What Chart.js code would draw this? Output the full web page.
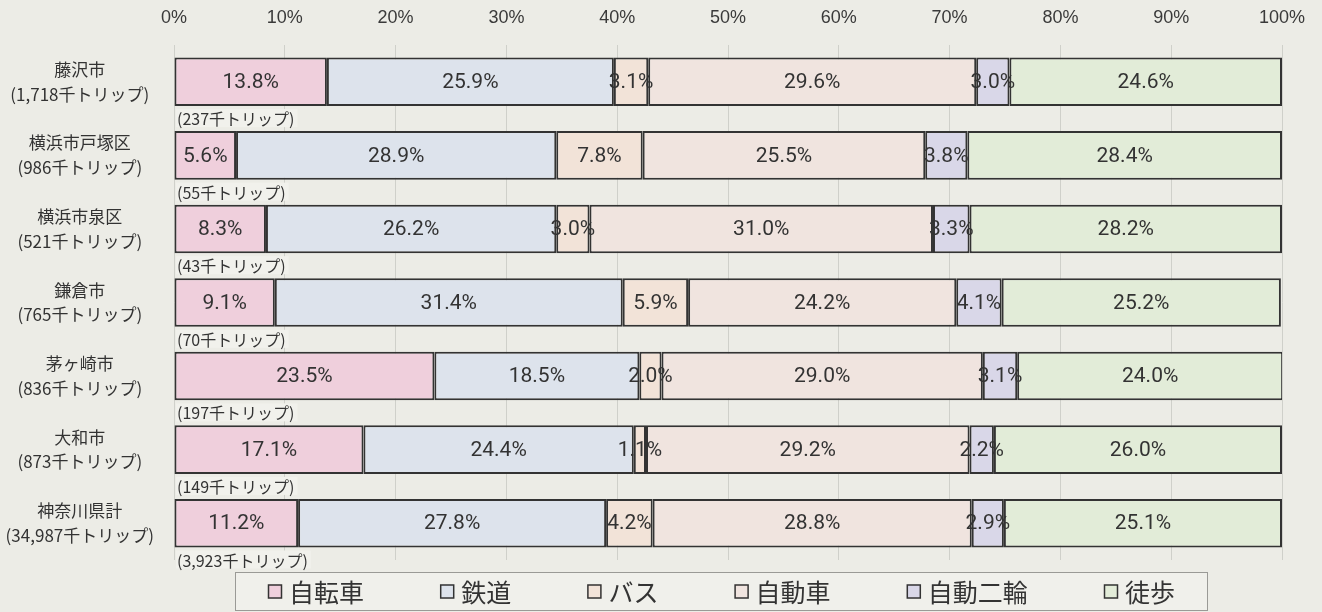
<!DOCTYPE html>
<html>
<head>
<meta charset="utf-8">
<script src="https://cdn.jsdelivr.net/npm/chart.js@4.4.1/dist/chart.umd.min.js"></script>
<style>
  html, body { margin: 0; padding: 0; background: #ecece6; }
</style>
</head>
<body>
<canvas id="modeChart" width="1322" height="612"></canvas>
<script>
// 都市ごとの交通手段分担率 (%)
const cities = ['藤沢市', '横浜市戸塚区', '横浜市泉区', '鎌倉市', '茅ヶ崎市', '大和市', '神奈川県計'];
const totalTrips = ['1,718', '986', '521', '765', '836', '873', '34,987'];
const bikeTrips = ['237', '55', '43', '70', '197', '149', '3,923'];
const modes = ['自転車', '鉄道', 'バス', '自動車', '自動二輪', '徒歩'];

const bicycle = [13.8, 5.6, 8.3, 9.1, 23.5, 17.1, 11.2];
const rail = [25.9, 28.9, 26.2, 31.4, 18.5, 24.4, 27.8];
const bus = [3.1, 7.8, 3.0, 5.9, 2.0, 1.1, 4.2];
const car = [29.6, 25.5, 31.0, 24.2, 29.0, 29.2, 28.8];
const motorbike = [3.0, 3.8, 3.3, 4.1, 3.1, 2.2, 2.9];
const walk = [24.6, 28.4, 28.2, 25.2, 24.0, 26.0, 25.1];

const colors = ['#efcfdc', '#dde3ec', '#f2e3d8', '#f0e4df', '#d9d7e8', '#e2ecd8'];
const seriesValues = [bicycle, rail, bus, car, motorbike, walk];

const jpFont = '"Noto Sans CJK JP", "Liberation Sans", sans-serif';
const numFont = '"Liberation Sans Narrow", "Roboto", "Liberation Sans", sans-serif';
const textColor = '#333333';

// 棒の中の数値ラベル
const valueLabels = {
  id: 'valueLabels',
  afterDatasetsDraw(chart) {
    const ctx = chart.ctx;
    ctx.save();
    ctx.font = '21px ' + numFont;
    ctx.fillStyle = textColor;
    ctx.textAlign = 'center';
    ctx.textBaseline = 'middle';
    chart.data.datasets.forEach((ds, di) => {
      const meta = chart.getDatasetMeta(di);
      meta.data.forEach((el, i) => {
        const v = ds.data[i];
        ctx.fillText(v.toFixed(1) + '%', (el.x + el.base) / 2, el.y + 1);
      });
    });
    ctx.restore();
  }
};

// 棒の下の自転車トリップ数
const tripLabels = {
  id: 'tripLabels',
  afterDatasetsDraw(chart) {
    const ctx = chart.ctx;
    const meta = chart.getDatasetMeta(0);
    ctx.save();
    ctx.font = '16px ' + jpFont;
    ctx.textAlign = 'left';
    ctx.textBaseline = 'middle';
    meta.data.forEach((el, i) => {
      const txt = '(' + bikeTrips[i] + '千トリップ)';
      const x = chart.chartArea.left + 2;
      const y = el.y + el.height / 2 + 12;
      const w = ctx.measureText(txt).width;
      ctx.fillStyle = '#f1f1ec';
      ctx.fillRect(x, y - 9, w + 4, 18);
      ctx.fillStyle = textColor;
      ctx.fillText(txt, x + 1, y + 1);
    });
    ctx.restore();
  }
};

// 下の凡例 (枠付き)
const boxLegend = {
  id: 'boxLegend',
  afterDraw(chart) {
    const ctx = chart.ctx;
    const boxL = 235, boxR = 1208, boxT = 572, boxB = 611;
    ctx.save();
    ctx.fillStyle = '#f0f0eb';
    ctx.fillRect(boxL, boxT, boxR - boxL, boxB - boxT);
    ctx.strokeStyle = '#9a9a96';
    ctx.lineWidth = 1;
    ctx.strokeRect(boxL + 0.5, boxT + 0.5, boxR - boxL - 1, boxB - boxT - 1);

    ctx.font = '25px ' + jpFont;
    const sq = 14, gapText = 7;
    const widths = chart.data.datasets.map(ds => sq + gapText + ctx.measureText(ds.label).width);
    const start = 268, end = 1175;
    const total = widths.reduce((a, b) => a + b, 0);
    const gap = (end - start - total) / (widths.length - 1);
    let x = start;
    const cy = (boxT + boxB) / 2;
    ctx.textBaseline = 'middle';
    ctx.textAlign = 'left';
    chart.data.datasets.forEach((ds, i) => {
      ctx.fillStyle = ds.backgroundColor;
      ctx.fillRect(x, cy - sq / 2, sq, sq);
      ctx.strokeStyle = '#333';
      ctx.lineWidth = 1.5;
      ctx.strokeRect(x + 0.5, cy - sq / 2 + 0.5, sq - 1, sq - 1);
      ctx.fillStyle = textColor;
      ctx.fillText(ds.label, x + sq + gapText, cy + 1);
      x += widths[i] + gap;
    });
    ctx.restore();
  }
};

const ctx = document.getElementById('modeChart');

new Chart(ctx, {
  type: 'bar',
  data: {
    labels: cities.map((c, i) => [c, '(' + totalTrips[i] + '千トリップ)']),
    datasets: modes.map((m, i) => ({
      label: m,
      data: seriesValues[i],
      backgroundColor: colors[i],
      borderColor: '#333333',
      borderWidth: 2,
      borderSkipped: false,
      barPercentage: 0.66,
      categoryPercentage: 1
    }))
  },
  options: {
    indexAxis: 'y',
    responsive: false,
    animation: false,
    layout: {
      padding: { left: 0, right: 40, top: 0, bottom: 52 }
    },
    plugins: {
      legend: { display: false },
      tooltip: { enabled: false }
    },
    scales: {
      x: {
        position: 'top',
        stacked: true,
        min: 0,
        max: 100,
        ticks: {
          stepSize: 10,
          padding: 16,
          color: '#3a3a3a',
          font: { size: 18, family: '"Liberation Sans", sans-serif' },
          callback: v => v + '%'
        },
        grid: {
          color: '#cfd0ca',
          lineWidth: 1,
          drawTicks: false
        },
        border: { display: false },
        afterFit: s => { s.height = 45; }
      },
      y: {
        stacked: true,
        ticks: {
          crossAlign: 'center',
          padding: 12,
          color: textColor,
          font: { size: 17, family: jpFont, lineHeight: 1.45 }
        },
        grid: { display: false },
        border: { display: false },
        afterFit: s => { s.width = 174; }
      }
    }
  },
  plugins: [valueLabels, tripLabels, boxLegend]
})
</script>
</body>
</html>
